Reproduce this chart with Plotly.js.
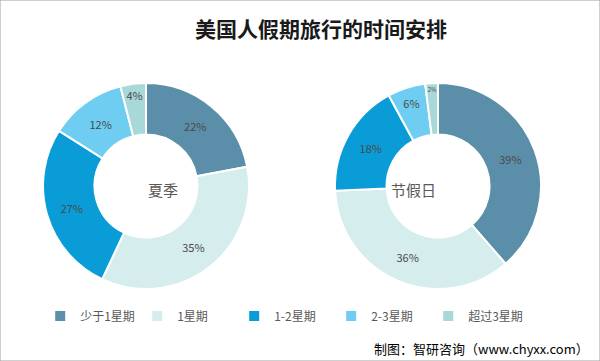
<!DOCTYPE html>
<html>
<head>
<meta charset="utf-8">
<script src="https://cdn.plot.ly/plotly-3.0.1.min.js"></script>
<style>
html,body{margin:0;padding:0;background:#fff;}
#chart{width:600px;height:361px;}
</style>
</head>
<body>
<div id="chart"></div>
<script>
const categories = ["少于1星期", "1星期", "1-2星期", "2-3星期", "超过3星期"];
const summerValues = [22, 35, 27, 12, 4];
const holidayValues = [39, 36, 18, 6, 2];
const groupNames = ["夏季", "节假日"];
const colors = ["#5b8fa9", "#d6eded", "#0a9cd7", "#6fcdf1", "#a8d8d7"];

const font = "'Noto Sans CJK SC', 'Microsoft YaHei', sans-serif";

function pie(values, domainX, showlegend) {
  return {
    type: "pie",
    labels: categories,
    values: values,
    sort: false,
    direction: "clockwise",
    rotation: 0,
    hole: 0.5,
    domain: {x: domainX, y: [0.1994, 0.7701]},
    marker: {colors: colors, line: {color: "#ffffff", width: 2}},
    texttemplate: "%{value}%",
    textposition: "inside",
    insidetextorientation: "horizontal",
    textfont: {family: font, size: 11, color: "#4a4a4a"},
    showlegend: showlegend,
    hoverinfo: "label+value"
  };
}

const data = [
  pie(summerValues, [0.0717, 0.415], true),
  pie(holidayValues, [0.558, 0.902], false)
];

const layout = {
  width: 600,
  height: 361,
  margin: {l: 0, r: 0, t: 0, b: 0},
  paper_bgcolor: "#ffffff",
  title: {
    text: "美国人假期旅行的时间安排",
    font: {family: font, size: 21, color: "#1a1a1a", weight: "bold"},
    x: 0.535, xanchor: "center",
    y: 0.917, yanchor: "middle"
  },
  legend: {
    orientation: "h",
    x: 0.067, xanchor: "left",
    y: 0.125, yanchor: "middle",
    font: {family: font, size: 12, color: "#595959"},
    entrywidth: 52,
    itemwidth: 30,
    traceorder: "normal"
  },
  annotations: [
    {text: groupNames[0], x: 0.2433, y: 0.476, xref: "paper", yref: "paper",
     showarrow: false, font: {family: font, size: 15, color: "#595959"}},
    {text: groupNames[1], x: 0.73, y: 0.476, xref: "paper", yref: "paper",
     showarrow: false, font: {family: font, size: 15, color: "#595959"}},
    {text: "制图：智研咨询（www.chyxx.com）", x: 0.985, y: 0.036, xref: "paper", yref: "paper",
     xanchor: "right", yanchor: "middle", showarrow: false,
     font: {family: font, size: 13, color: "#000000"}}
  ],
  shapes: [
    {type: "rect", xref: "paper", yref: "paper", x0: 0, x1: 1, y0: 0, y1: 1,
     line: {color: "#a0a0a0", width: 1}}
  ]
};

Plotly.newPlot("chart", data, layout, {displayModeBar: false, staticPlot: true});
</script>
</body>
</html>
